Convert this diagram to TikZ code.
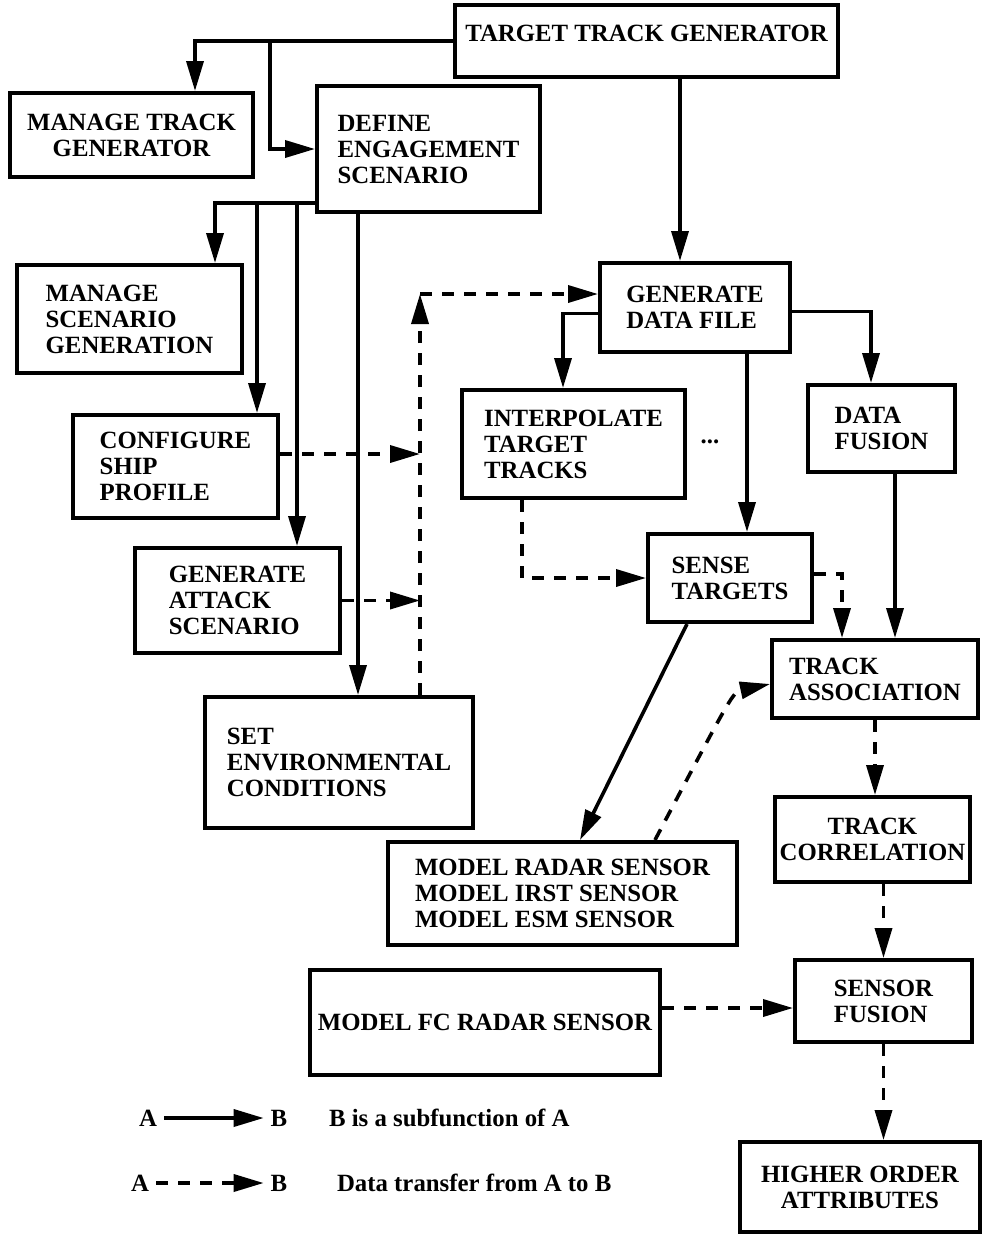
\documentclass[tikz,border=0pt]{standalone}
\usepackage{fontspec}
\setmainfont{Liberation Serif}
\usetikzlibrary{arrows.meta,positioning}

\tikzset{boxsize/.style 2 args={minimum width=#1*0.5pt, minimum height=#2*0.5pt}}

\begin{document}
\begin{tikzpicture}[x=0.5pt, y=-0.5pt, font=\fontsize{12.4}{13}\selectfont\bfseries]

\tikzstyle{blok}=[rectangle, draw=black, line width=2pt, inner sep=2pt, align=left]
\tikzstyle{subpil}=[line width=1.8pt, -{Triangle[length=15pt, width=8.5pt]}]
\tikzstyle{datapil}=[subpil, dash pattern=on 6pt off 5pt]

\useasboundingbox (0,0) rectangle (989,1237);

% boxes
\node[blok, boxsize={383}{72}] (trackgen) at (646.5,41) {\raisebox{8pt}{TARGET TRACK GENERATOR}};
\node[blok, boxsize={243}{84}, align=center] (managetrack) at (131.5,135) {MANAGE TRACK\\GENERATOR};
\node[blok, boxsize={223}{126}] (define) at (428.5,149) {DEFINE\\ENGAGEMENT\\SCENARIO};
\node[blok, boxsize={225}{108}] (managescen) at (129.5,319) {MANAGE\\SCENARIO\\GENERATION};
\node[blok, boxsize={205}{103}] (configure) at (175.5,466.5) {CONFIGURE\\SHIP\\PROFILE};
\node[blok, boxsize={205}{105}] (attack) at (237.5,600.5) {GENERATE\\ATTACK\\SCENARIO};
\node[blok, boxsize={268}{131}] (environ) at (339,762.5) {SET\\ENVIRONMENTAL\\CONDITIONS};
\node[blok, boxsize={190}{89}] (datafile) at (695,307.5) {GENERATE\\DATA FILE};
\node[blok, boxsize={223}{108}] (interp) at (573.5,444) {INTERPOLATE\\TARGET\\TRACKS};
\node (dots) at (710,442) {...};
\node[blok, boxsize={147}{87}] (fusion) at (881.5,428.5) {DATA\\FUSION};
\node[blok, boxsize={164}{88}] (sense) at (730,578) {SENSE\\TARGETS};
\node[blok, boxsize={206}{78}] (assoc) at (875,679) {TRACK\\ASSOCIATION};
\node[blok, boxsize={195}{85}, inner xsep=0pt, align=center] (correl) at (872.5,839.5) {TRACK\\CORRELATION};
\node[blok, boxsize={349}{103}] (sensors) at (562.5,893.5) {MODEL RADAR SENSOR\\MODEL IRST SENSOR\\MODEL ESM SENSOR};
\node[blok, boxsize={350}{105}] (fcradar) at (485,1022.5) {MODEL FC RADAR SENSOR};
\node[blok, boxsize={177}{82}] (sensorfusion) at (883.5,1001) {SENSOR\\FUSION};
\node[blok, boxsize={240}{90}, align=center] (higher) at (860,1187) {HIGHER ORDER\\ATTRIBUTES};

% guides for the bends
\coordinate (j1) at (195,0);
\coordinate (j2) at (270,0);
\coordinate (j3) at (680,0);
\coordinate (j4) at (215,0);
\coordinate (j5) at (257,0);
\coordinate (j6) at (297,0);
\coordinate (j7) at (358,0);
\coordinate (bus) at (420,0);
\coordinate (j8) at (563,0);
\coordinate (j9) at (747,0);
\coordinate (j10) at (871,0);
\coordinate (j11) at (522,0);
\coordinate (j12) at (842,0);
\coordinate (j13) at (895,0);
\coordinate (j14) at (687,0);
\coordinate (j15) at (580,0);
\coordinate (j16) at (655,0);
\coordinate (r1) at (0,203);
\coordinate (r2) at (0,454);
\coordinate (r3) at (0,294);
\coordinate (r4) at (0,1008);
\coordinate (bend) at (733,692);

% subfunctions
\draw[subpil] (trackgen.west) -| (managetrack.north -| j1);
\draw[subpil] (j2 |- trackgen.west) |- (define.west);
\draw[subpil] (trackgen.south -| j3) -- (datafile.north -| j3);
\draw[subpil] (define.west |- r1) -| (managescen.north -| j4);
\draw[subpil] (j5 |- r1) -- (configure.north -| j5);
\draw[subpil] (j6 |- r1) -- (attack.north -| j6);
\draw[subpil] (define.south -| j7) -- (environ.north -| j7);
\draw[subpil] ([yshift=-3pt]datafile.west) -| (interp.north -| j8);
\draw[subpil] (datafile.south -| j9) -- (sense.north -| j9);
\draw[subpil] ([yshift=-2pt]datafile.east) -| (fusion.north -| j10);
\draw[subpil] (fusion.south -| j13) -- (assoc.north -| j13);
\draw[subpil] (sense.south -| j14) -- (sensors.north -| j15);

% data transfers
\draw[datapil] (configure.east |- r2) -- (bus |- r2);
\draw[datapil] (attack.east) -- (attack.east -| bus);
\draw[datapil] (environ.north -| bus) -- (bus |- r3);
\draw[datapil] (bus |- r3) -- (datafile.west |- r3);
\draw[datapil] (interp.south -| j11) |- (sense.west);
\draw[datapil] ([yshift=2pt]sense.east) -| (assoc.north -| j12);
\draw[datapil] (sensors.north -| j16) .. controls (bend) .. ([yshift=-2.5pt]assoc.west);
\draw[datapil] (assoc.south) -- (assoc.south |- correl.north);
\draw[datapil] (sensorfusion.north |- correl.south) -- (sensorfusion.north);
\draw[datapil] (fcradar.east |- r4) -- (sensorfusion.west |- r4);
\draw[datapil] (sensorfusion.south) -- (sensorfusion.south |- higher.north);

% legend
\node (a1) at (148,1118) {A};
\node (b1) at (279,1118) {B};
\draw[subpil] (a1) -- (b1);
\node[anchor=west] (txt1) at (322,1118) {B is a subfunction of A};
\node (a2) at (140,1183) {A};
\node (b2) at (279,1183) {B};
\draw[datapil] (a2) -- (b2);
\node[anchor=west] (txt2) at (330,1183) {Data transfer from A to B};

\end{tikzpicture}
\end{document}
